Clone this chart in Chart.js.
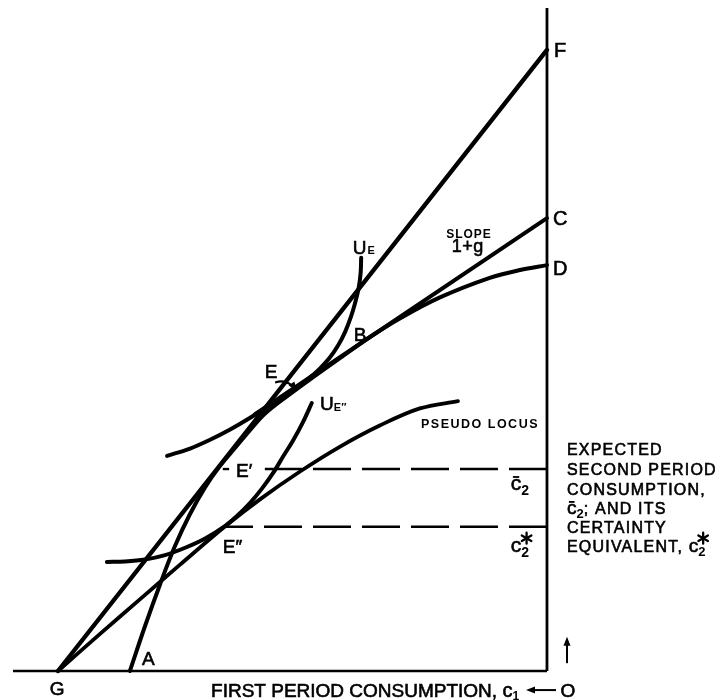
<!DOCTYPE html>
<html>
<head>
<meta charset="utf-8">
<script src="https://cdn.jsdelivr.net/npm/chart.js@4.4.0/dist/chart.umd.min.js"></script>
<style>
  html, body { margin: 0; padding: 0; background: #fff; }
  #wrap { width: 724px; height: 700px; }
</style>
</head>
<body>
<div id="wrap"><canvas id="diagram" width="724" height="700"></canvas></div>
<script>
// Coordinates are [c1, c2]: first period consumption measured leftward from O,
// second period consumption measured upward from O.
const axisC1Extent = 109.2;
const axisC2Extent = 135.6;

const budgetLineGF = [[100, 0], [0, 127.0]];
const slopeLineC = [[59.7, 52.5], [0, 92.6]];

// opportunity locus from A, touching GF near E' and the 1+g line at B, ending at D
const locusAD = [
  [85.3, 0], [82.2, 9.2], [79.1, 17.8], [76.1, 25.5], [73.0, 32.1], [69.9, 37.6],
  [66.9, 41.9], [63.8, 45.6], [60.7, 49.3], [57.7, 52.6], [53.0, 56.3], [47.4, 60.4],
  [41.9, 64.3], [36.2, 68.3], [30.1, 72.1], [21.9, 76.4], [11.7, 80.4], [5.5, 82.0], [0, 83.0]
];

// indifference curve U_E, tangent to the 1+g line at E
const curveUE = [
  [77.7, 44.0], [73.0, 45.5], [68.9, 47.3], [64.8, 49.4], [60.7, 51.8], [56.6, 54.4],
  [51.1, 58.0], [48.5, 60.0], [46.4, 61.9], [44.4, 64.1], [42.7, 66.6], [41.3, 69.3],
  [40.1, 72.4], [39.2, 75.4], [38.5, 78.4], [38.1, 81.5], [38.0, 84.5]
];

// indifference curve U_E'', tangent to the pseudo locus at E''
const curveUE2 = [
  [90.0, 22.3], [86.3, 22.4], [82.2, 22.8], [78.1, 23.7], [74.0, 25.2], [69.9, 27.1],
  [65.8, 29.7], [63.4, 31.7], [60.7, 34.4], [58.3, 37.3], [56.0, 40.5], [54.0, 43.8],
  [51.9, 47.2], [49.9, 50.9], [48.1, 54.8]
];

const pseudoLocus = [
  [100, 0], [91.4, 7.6], [83.2, 14.7], [75.1, 21.7], [65.8, 29.6], [58.7, 35.1],
  [50.5, 40.8], [42.3, 45.9], [34.2, 50.2], [26.0, 53.7], [18.2, 55.2]
];

// expected second period consumption and its certainty equivalent
const expectedC2 = 41.3;
const certaintyC2 = 29.5;
const pointE1C1 = 66.3;   // E'
const pointE2C1 = 65.8;   // E''
const dashStartE1 = 57.7; // dashes resume right of the E' label

const INK = '#000';
const FONT = "'Liberation Sans', Arial, Helvetica, sans-serif";

const toXY = arr => arr.map(([x, y]) => ({ x, y }));

function stroke(data, width, extra) {
  return Object.assign({
    data: toXY(data),
    borderColor: INK,
    backgroundColor: INK,
    borderWidth: width,
    pointRadius: 0,
    pointHoverRadius: 0,
    fill: false,
    tension: 0,
    borderCapStyle: 'round',
    borderJoinStyle: 'round'
  }, extra || {});
}

const datasets = [
  stroke([[axisC1Extent, 0], [0, 0]], 2.6, { borderCapStyle: 'butt' }),
  stroke([[0, 0], [0, axisC2Extent]], 2.8, { borderCapStyle: 'butt' }),
  stroke(budgetLineGF, 4.4),
  stroke(slopeLineC, 4.0),
  stroke(locusAD, 4.0, { tension: 0.35 }),
  stroke(curveUE, 4.0, { tension: 0.35 }),
  stroke(curveUE2, 4.0, { tension: 0.35 }),
  stroke(pseudoLocus, 3.8, { tension: 0.35 }),
  stroke([[0, expectedC2], [dashStartE1, expectedC2]], 2.4, { borderDash: [38, 11], borderCapStyle: 'butt' }),
  stroke([[pointE1C1, expectedC2], [pointE1C1 - 1.3, expectedC2]], 2.4, { borderCapStyle: 'butt' }),
  stroke([[0, certaintyC2], [pointE2C1, certaintyC2]], 2.4, { borderDash: [38, 11], borderCapStyle: 'butt' })
];

// text placed in [c1, c2] units at its baseline
const labels = [
  { at: [-1.43, 125.6], runs: [{ t: 'F', size: 20 }] },
  { at: [-1.23, 91.2], runs: [{ t: 'C', size: 20 }] },
  { at: [-1.23, 81.0], runs: [{ t: 'D', size: 20 }] },
  { at: [15.95, 88.5], align: 'center', runs: [{ t: 'SLOPE', size: 12, bold: true, ls: 1 }] },
  { at: [16.2, 85.6], align: 'center', runs: [{ t: '1+g', size: 18, ls: 0.5 }] },
  { at: [39.7, 85.3], runs: [{ t: 'U', size: 19 }, { t: 'E', size: 11, bold: true, gap: 1 }] },
  { at: [39.5, 67.5], runs: [{ t: 'B', size: 19 }] },
  { at: [57.7, 59.9], runs: [{ t: 'E', size: 19 }] },
  { at: [46.4, 53.4], runs: [{ t: 'U', size: 19 }, { t: 'E\u2033', size: 11, bold: true, dy: 1 }] },
  { at: [63.6, 39.7], runs: [{ t: 'E\u2032', size: 19 }] },
  { at: [66.3, 24.1], runs: [{ t: 'E\u2033', size: 19 }] },
  { at: [13.7, 49.7], align: 'center', runs: [{ t: 'PSEUDO LOCUS', size: 12.5, bold: true, ls: 1.5 }] },
  { at: [7.4, 37.0], runs: [{ t: 'c', size: 21, bar: 11 }, { t: '2', size: 14, bold: true, dy: 5 }] },
  { at: [7.4, 24.3], runs: [{ t: 'c', size: 21 }, { t: '2', size: 14, bold: true, dy: 5, star: true }] },
  { at: [-4.09, 44.2], runs: [{ t: 'EXPECTED', size: 16, ls: 1.2 }] },
  { at: [-4.09, 40.1], runs: [{ t: 'SECOND PERIOD', size: 16, ls: 1.2 }] },
  { at: [-4.09, 36.0], runs: [{ t: 'CONSUMPTION,', size: 16, ls: 1.2 }] },
  { at: [-4.09, 32.1], runs: [{ t: 'c', size: 19, bar: 10 }, { t: '2', size: 13, bold: true, dy: 4 }, { t: '; AND ITS', size: 16, ls: 1.2 }] },
  { at: [-4.09, 28.2], runs: [{ t: 'CERTAINTY', size: 16, ls: 1.2 }] },
  { at: [-4.09, 24.3], runs: [{ t: 'EQUIVALENT, ', size: 16, ls: 1.2 }, { t: 'c', size: 19 }, { t: '2', size: 13, bold: true, dy: 4, star: true }] },
  { at: [100.2, -4.9], align: 'center', runs: [{ t: 'G', size: 19 }] },
  { at: [82.8, 1.2], runs: [{ t: 'A', size: 19 }] },
  { at: [68.7, -5.3], runs: [{ t: 'FIRST PERIOD CONSUMPTION, ', size: 19 }, { t: 'c', size: 20 }, { t: '1', size: 12, bold: true, dy: 3 }] },
  { at: [-4.3, -5.3], align: 'center', runs: [{ t: 'O', size: 19 }] }
];

// arrows: [from, to] in [c1, c2] units; the E pointer bends on its way
const arrows = [
  { from: [-1.84, -3.9], to: [4.29, -3.9] },
  { from: [-4.09, 1.6], to: [-4.09, 7.0] },
  { from: [55.6, 59.0], to: [51.2, 57.3], bend: [53.0, 59.9] }
];

function fontOf(r) {
  return (r.bold ? 'bold ' : '') + r.size + 'px ' + FONT;
}

// six-spoke asterisk, as lettered beside c2
function star(ctx, x, y, rad) {
  ctx.save();
  ctx.lineWidth = 2.3;
  ctx.lineCap = 'round';
  for (let k = 0; k < 3; k++) {
    const a = Math.PI / 2 + k * Math.PI / 3;
    ctx.beginPath();
    ctx.moveTo(x - rad * Math.cos(a), y - rad * Math.sin(a));
    ctx.lineTo(x + rad * Math.cos(a), y + rad * Math.sin(a));
    ctx.stroke();
  }
  ctx.restore();
}

function drawRuns(ctx, x, y, runs, align) {
  let total = 0;
  runs.forEach(r => {
    ctx.font = fontOf(r);
    ctx.letterSpacing = (r.ls || 0) + 'px';
    r.w = ctx.measureText(r.t).width;
    total += r.w + (r.gap || 0);
  });
  let cx = align === 'center' ? x - total / 2 : x;
  runs.forEach(r => {
    ctx.font = fontOf(r);
    ctx.letterSpacing = (r.ls || 0) + 'px';
    const bx = cx + (r.gap || 0), by = y + (r.dy || 0);
    ctx.fillText(r.t, bx, by);
    if (!r.bold) {
      // pen-lettered strokes are a little heavier than the regular face
      ctx.lineWidth = 0.6;
      ctx.strokeText(r.t, bx, by);
    }
    if (r.bar) {
      ctx.fillRect(cx + r.w * 0.2, y - r.bar - 3, r.w * 0.6, 1.8);
    }
    if (r.star) {
      star(ctx, cx + r.w * 0.55 + 1, y - 14, 5.5);
    }
    cx += r.w + (r.gap || 0);
  });
  ctx.letterSpacing = '0px';
}

function arrowHead(ctx, x, y, ang, len, half) {
  ctx.beginPath();
  ctx.moveTo(x, y);
  ctx.lineTo(x - len * Math.cos(ang) + half * Math.sin(ang), y - len * Math.sin(ang) - half * Math.cos(ang));
  ctx.lineTo(x - len * Math.cos(ang) - half * Math.sin(ang), y - len * Math.sin(ang) + half * Math.cos(ang));
  ctx.closePath();
  ctx.fill();
}

const annotate = {
  id: 'annotate',
  afterDatasetsDraw(chart) {
    const ctx = chart.ctx;
    const sx = chart.scales.x, sy = chart.scales.y;
    const P = ([a, b]) => [sx.getPixelForValue(a), sy.getPixelForValue(b)];
    ctx.save();
    ctx.fillStyle = INK;
    ctx.strokeStyle = INK;
    ctx.textBaseline = 'alphabetic';
    ctx.textAlign = 'left';
    labels.forEach(l => {
      const [x, y] = P(l.at);
      drawRuns(ctx, x, y, l.runs, l.align);
    });
    arrows.forEach(a => {
      const [x0, y0] = P(a.from), [x1, y1] = P(a.to);
      ctx.lineWidth = 2;
      ctx.lineCap = 'butt';
      ctx.beginPath();
      ctx.moveTo(x0, y0);
      let ang;
      if (a.bend) {
        const [bx, by] = P(a.bend);
        ctx.quadraticCurveTo(bx, by, x1, y1);
        ang = Math.atan2(y1 - by, x1 - bx);
        ctx.stroke();
      } else {
        ang = Math.atan2(y1 - y0, x1 - x0);
        ctx.lineTo(x1 - 6 * Math.cos(ang), y1 - 6 * Math.sin(ang));
        ctx.stroke();
      }
      arrowHead(ctx, x1, y1, ang, 9, 3.5);
    });
    ctx.restore();
  }
};

new Chart(document.getElementById('diagram'), {
  type: 'line',
  data: { datasets },
  options: {
    responsive: false,
    animation: false,
    events: [],
    layout: { padding: 0 },
    plugins: { legend: { display: false }, tooltip: { enabled: false } },
    scales: {
      x: { type: 'linear', reverse: true, min: -36.2, max: 111.86, display: false },
      y: { type: 'linear', min: -5.93, max: 137.22, display: false }
    }
  },
  plugins: [annotate]
});
</script>
</body>
</html>
